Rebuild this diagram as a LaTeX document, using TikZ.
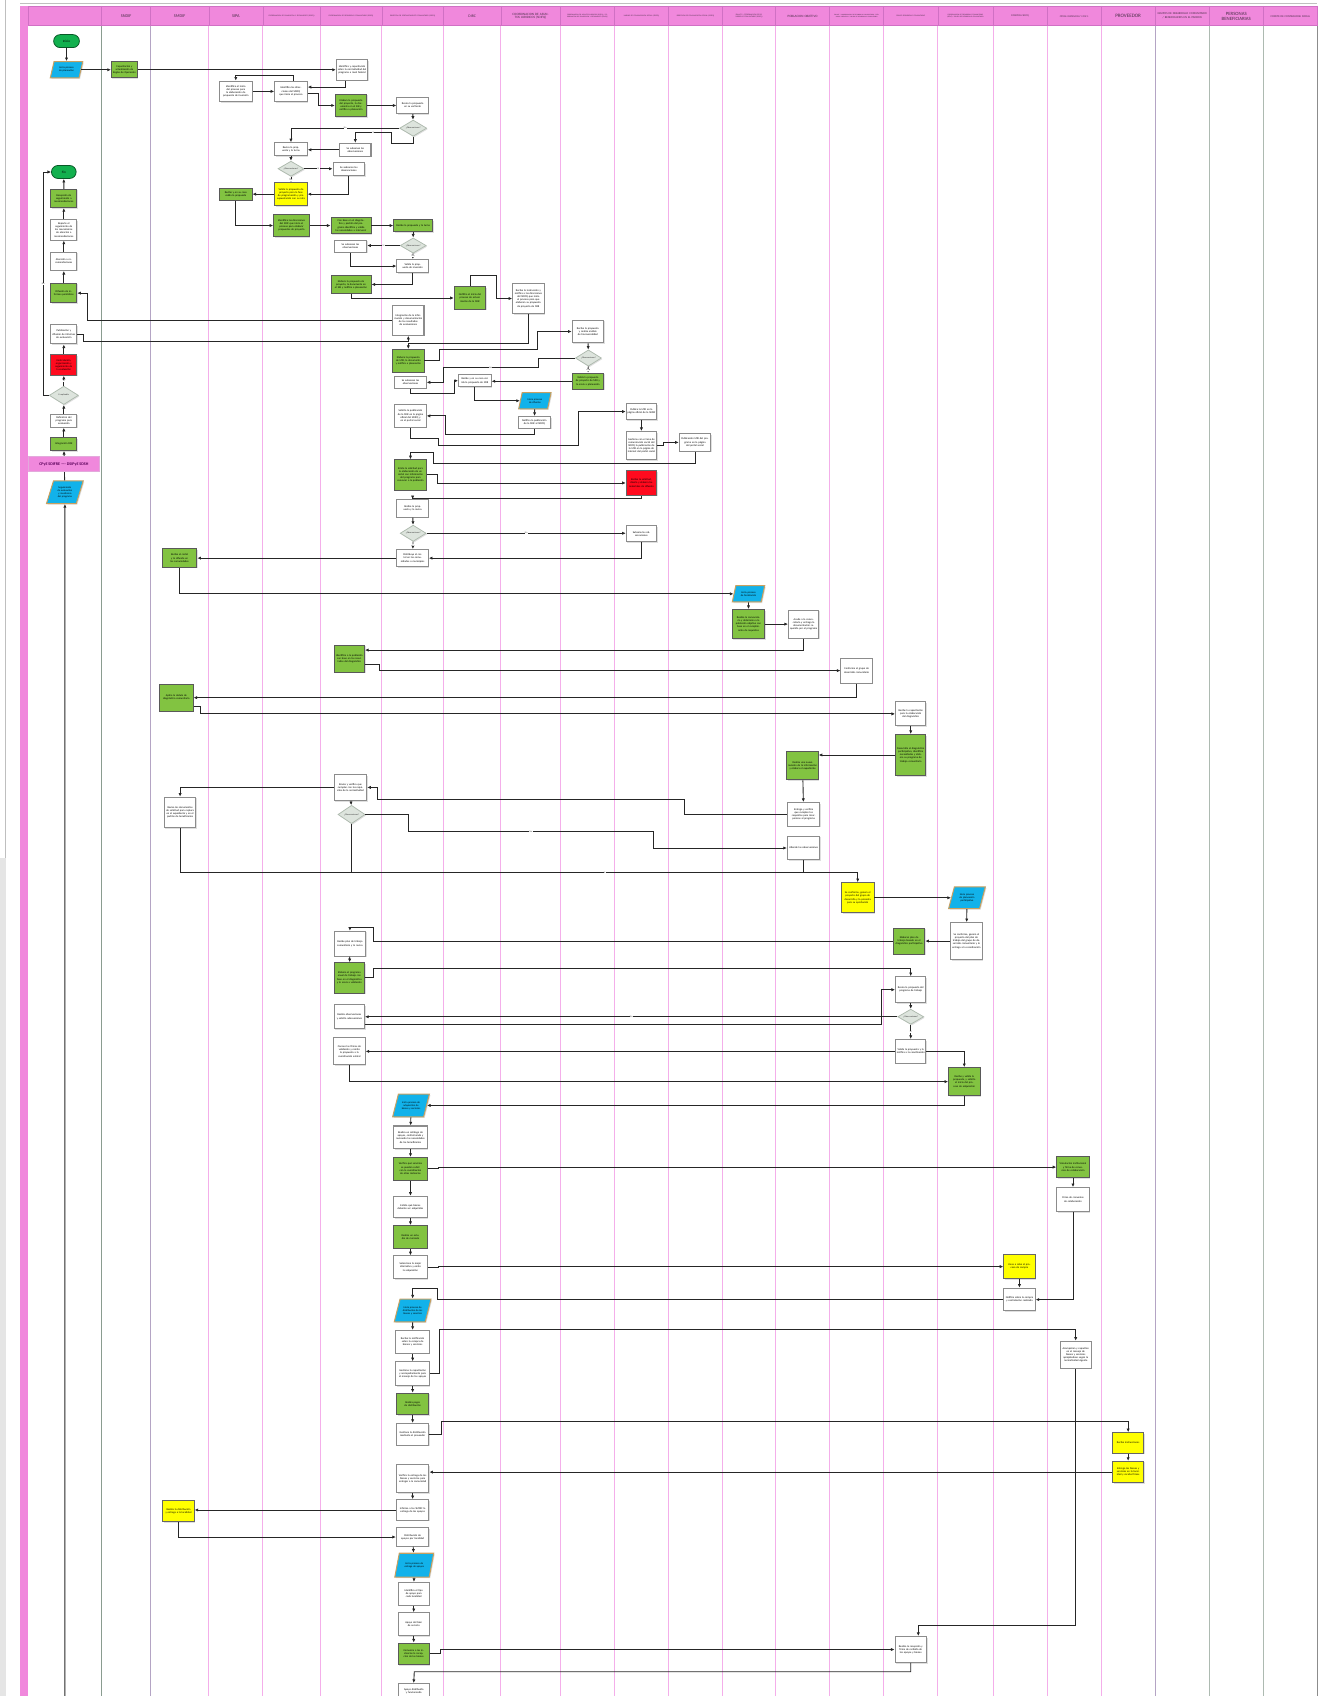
\documentclass[tikz,border=0pt]{standalone}
\usepackage{fontspec}
\setmainfont{Carlito}
\usetikzlibrary{shapes.geometric,shapes.misc,shadows,calc,arrows.meta}
\definecolor{hpink}{HTML}{F088DC}
\definecolor{hpinkd}{HTML}{D070C4}
\definecolor{lpink}{HTML}{F4AEEA}
\definecolor{ggreen}{HTML}{82C341}
\definecolor{tgreen}{HTML}{12B04E}
\definecolor{pblue}{HTML}{12B2EA}
\definecolor{ptan}{HTML}{C8A060}
\definecolor{dfill}{HTML}{DDE4DD}
\definecolor{dline}{HTML}{AEBAAE}
\definecolor{rred}{HTML}{FF0A1E}
\definecolor{yyel}{HTML}{FFFF00}
\definecolor{lgreen}{HTML}{8A9C90}
\definecolor{lpurp}{HTML}{B4A4C4}
\definecolor{htext}{HTML}{4A3048}
\begin{document}
\begin{tikzpicture}[x=0.3mm,y=-0.3mm,
  sz/.style 2 args={minimum width=#1*0.3mm,minimum height=#2*0.3mm},
  shd/.style={drop shadow={shadow xshift=0.3mm,shadow yshift=-0.3mm,opacity=0.25}},
  base/.style={rectangle,inner sep=0.3pt,align=center,text width=8mm,font=\fontsize{2.1}{2.5}\selectfont,shd},
  wb/.style={base,draw=black!45,line width=0.8pt,fill=white},
  gb/.style={base,draw=black!65,line width=0.7pt,fill=ggreen},
  yb/.style={base,draw=black!60,line width=0.7pt,fill=yyel},
  rb/.style={base,draw=black!60,line width=0.7pt,fill=rred},
  pa/.style={trapezium,trapezium left angle=62,trapezium right angle=118,trapezium stretches=true,draw=ptan,line width=0.8pt,fill=pblue,inner sep=0.2pt,align=center,text width=5.5mm,font=\fontsize{2}{2.4}\selectfont,shd},
  dia/.style={diamond,draw=dline,fill=dfill,line width=0.6pt,inner sep=0pt,shd},
  dtx/.style={font=\fontsize{1.7}{2}\selectfont,text=black!80,inner sep=0pt},
  term/.style={rounded rectangle,draw=black!50!tgreen,fill=tgreen,line width=0.6pt,inner sep=0.5pt,font=\fontsize{2.6}{3}\selectfont},
  band/.style={rectangle,fill=hpink,draw=hpinkd!60,line width=0.4pt,font=\bfseries\fontsize{3.2}{3.6}\selectfont,text=violet!70!black,sz={66}{14}},
  hd/.style={align=center,text width=14mm,text=htext,inner sep=0pt},
  arr/.style={draw=black!85,line width=0.7pt,-{Latex[length=1mm,width=0.9mm]}},
  ln/.style={draw=black!85,line width=0.7pt},
  lab/.style={font=\fontsize{1.8}{2}\selectfont,fill=white,inner sep=0.2pt,text=black!70}]
\useasboundingbox (0,0) rectangle (1223,1568);
\clip (0,0) rectangle (1223,1568);
% ---------- background / lanes ----------
\draw[black!25,line width=0.4pt] (5,0) -- (5,793);
\fill[black!10] (0,793) rectangle (5.5,1568);
\draw[black!25,line width=0.4pt] (18.5,3) -- (1218,3);
\fill[hpink] (18.5,5.5) rectangle (26,1568);
\fill[hpink] (26,5.5) rectangle (1218,23);
\foreach \x in {193,243,296,353,410,463,518,568,618,668,717,767,817,867,918,968,1018}
  \draw[lpink,line width=0.7pt] (\x,23) -- (\x,1568);
\draw[lgreen,line width=0.7pt] (94,23) -- (94,1568);
\draw[lpurp,line width=0.7pt] (139,23) -- (139,1568);
\draw[lpurp,line width=0.7pt] (1068,23) -- (1068,1568);
\draw[lgreen!70,line width=0.7pt] (1118,23) -- (1118,1568);
\draw[lgreen!70,line width=0.7pt] (1168,23) -- (1168,1568);
\draw[black!45,line width=0.7pt] (1218,5.5) -- (1218,1568);
\foreach \x in {94,139,193,243,296,353,410,463,518,568,618,668,717,767,817,867,918,968,1018,1068,1118,1168}
  \draw[hpinkd,line width=0.4pt] (\x,5.5) -- (\x,23);
\draw[hpinkd,line width=0.5pt] (26,5.5) rectangle (1218,23);
% ---------- header ----------
\node[hd,font=\fontsize{3.4}{3.8}\selectfont] (h1) at (116.5,15) {SNDIF};
\node[hd,font=\fontsize{3.4}{3.8}\selectfont] (h2) at (166,15) {SMDIF};
\node[hd,font=\fontsize{3.4}{3.8}\selectfont] (h3) at (218,15) {SIPA};
\node[hd,font=\fontsize{1.5}{1.8}\selectfont] (h4) at (269.5,15) {COORDINACION DE PLANEACION Y SEGUIMIENTO (SDIFQ)};
\node[hd,font=\fontsize{1.5}{1.8}\selectfont] (h5) at (324.5,15) {COORDINACION DE DESARROLLO COMUNITARIO (SDIFQ)};
\node[hd,font=\fontsize{1.5}{1.8}\selectfont] (h6) at (381.5,15) {DIRECCION DE FORTALECIMIENTO COMUNITARIO (SDIFQ)};
\node[hd,font=\fontsize{3}{3.4}\selectfont] (h7) at (436.5,15) {DIRC};
\node[hd,font=\fontsize{2.6}{3}\selectfont] (h8) at (490.5,15) {COORDINACION DE ASUNTOS JURIDICOS (SDIFQ)};
\node[hd,font=\fontsize{1.4}{1.7}\selectfont] (h9) at (543,15) {COORDINACION DE ASUNTOS JURIDICOS (SDIFQ) / COORDINACION DE PLANEACION Y SEGUIMIENTO (SDIFQ)};
\node[hd,font=\fontsize{1.5}{1.8}\selectfont] (h10) at (593,15) {UNIDAD DE COMUNICACION SOCIAL (SDIFQ)};
\node[hd,font=\fontsize{1.5}{1.8}\selectfont] (h11) at (643,15) {DIRECCION DE COMUNICACION SOCIAL (SDIFQ)};
\node[hd,font=\fontsize{1.5}{1.8}\selectfont] (h12) at (692.5,15) {ENLACE / COORDINACION DE DESARROLLO COMUNITARIO (SDIFQ)};
\node[hd,font=\fontsize{2.6}{3}\selectfont] (h13) at (742,15) {POBLACION OBJETIVO};
\node[hd,font=\fontsize{1.3}{1.6}\selectfont] (h14) at (792,15) {ENLACE / COORDINACION DE DESARROLLO COMUNITARIO / PERSONAL OPERATIVO / GRUPO DE DESARROLLO COMUNITARIO};
\node[hd,font=\fontsize{1.5}{1.8}\selectfont] (h15) at (842,15) {GRUPO DESARROLLO COMUNITARIO};
\node[hd,font=\fontsize{1.4}{1.7}\selectfont] (h16) at (892.5,15) {COORDINACION DE DESARROLLO COMUNITARIO (SEDIF) / GRUPO DE DESARROLLO COMUNITARIO};
\node[hd,font=\fontsize{2}{2.4}\selectfont] (h17) at (943,15) {COMPRAS SDIFQ};
\node[hd,font=\fontsize{2}{2.4}\selectfont] (h18) at (993,15) {OTRAS INSTANCIAS Y OSC's};
\node[hd,font=\fontsize{4}{4.4}\selectfont] (h19) at (1043,15) {PROVEEDOR};
\node[hd,font=\fontsize{2.3}{2.6}\selectfont] (h20) at (1093,14.5) {GRUPOS DE DESARROLLO COMUNITARIO / BENEFICIARIOS EN EL PADRON};
\node[hd,font=\fontsize{3.8}{4.2}\selectfont] (h21) at (1143,15) {PERSONAS\\BENEFICIARIAS};
\node[hd,font=\fontsize{2.2}{2.6}\selectfont] (h22) at (1193,15) {COMITE DE CONTRALORIA SOCIAL};
% ---------- column 0 ----------
\node[term,sz={25}{12}] (ini) at (61.5,38) {Inicio};
\node[pa,sz={30}{15}] (p1) at (61.5,64.5) {Inicia proceso de planeación};
\node[term,sz={24}{12}] (fin) at (59,159) {Fin};
\node[gb,sz={24}{17},text width=6.6mm] (rec) at (59,183.5) {Recepción de seguimiento a recomendaciones};
\node[wb,sz={24}{19},text width=6.6mm] (rep) at (59,212.5) {Reporte el seguimiento de los mecanismos de atención a recomendaciones};
\node[wb,sz={24}{17},text width=6.6mm] (aten) at (59,241.5) {Atención a recomendaciones};
\node[gb,sz={24}{18},text width=6.6mm] (dif) at (59,271) {Difusión de informes periódicos};
\node[wb,sz={24}{18},text width=6.6mm] (pub) at (59,309) {Publicación y difusión de informes de evaluación};
\node[rb,sz={24}{19},text width=6.6mm] (red0) at (59,337.5) {Contratación, organización y seguimiento de la evaluación};
\node[dia,sz={27}{17},label={[dtx]center:Es aplicable}] (d0) at (59,365.5) {};
\node[wb,sz={24}{12},text width=6.6mm] (defn) at (59,389) {Definición del programa para evaluación};
\node[gb,sz={24}{12},text width=6.6mm] (pae) at (59,410.5) {Integración PAE};
\node[pa,sz={34}{21}] (p8) at (60,455) {Seguimiento de evaluación y monitoreo del programa};
\draw[arr] (p8) -- (pae);
\node[band] (band) at (59,429) {CPyE SDIFRE ---- DSIPyE SDSH};
\coordinate (bot) at (60,1580);
% ---------- nodes ----------
\node[gb,sz={24}{15},text width=6.6mm] (cap) at (115,64.5) {Capacitación y actualización de Reglas de Operación};
\node[wb,sz={29}{19}] (idcap) at (325.5,64.5) {Identifica y capacitación sobre la normatividad del programa a nivel federal};
\node[wb,sz={30}{19}] (sipa1) at (218,84.5) {Identifica el inicio del proceso para la elaboración de propuesta de inversión};
\node[wb,sz={30}{19}] (cps1) at (269,84.5) {Identifica las direcciones del SDIFQ que inicia el proceso};
\node[gb,sz={29}{21}] (cdc1) at (324.5,97.5) {Elabora la propuesta del proyecto, la documenta en el SIB y notifica a planeación};
\node[wb,sz={29}{15}] (dfc1) at (381.5,97.5) {Revisa la propuesta en su vertiente};
\node[dia,sz={25}{15},label={[dtx]center:¿Observaciones?}] (d1) at (382,118.5) {};
\node[wb,sz={30}{12}] (cps2) at (269,138) {Revisa la propuesta y la turna};
\node[wb,sz={29}{12}] (cdc2) at (328.5,138.5) {Se subsanan las observaciones};
\node[dia,sz={24}{14},label={[dtx]center:¿Observaciones?}] (d2) at (269,156) {};
\node[wb,sz={29}{12}] (cdc3) at (322.5,156.5) {Se subsanan las observaciones};
\node[yb,sz={30}{21}] (cps3) at (269,179.5) {Valida la propuesta de proyecto para la fase de programación y presupuestación con su ruta};
\node[gb,sz={30}{11}] (sipa2) at (218,179.5) {Recibe y en su caso valida la propuesta};
\node[gb,sz={33}{21},text width=9mm] (cps4) at (269.5,208.5) {Identifica las direcciones del SDIF que inicia el proceso para elaborar propuestas de proyecto};
\node[gb,sz={37}{15},text width=10.4mm] (cdc4) at (324.5,208.5) {Con base en el diagnóstico y padrón del programa identifica y valida las necesidades a intervenir};
\node[gb,sz={36}{11},text width=10mm] (dfc2) at (382,208.5) {Recibe la propuesta y la turna};
\node[dia,sz={24}{14},label={[dtx]center:¿Observaciones?}] (d3) at (382,227) {};
\node[wb,sz={30}{11}] (cdc5) at (324,227.5) {Se subsanan las observaciones};
\node[wb,sz={29}{12}] (dfc3) at (381.5,246) {Valida la propuesta de inversión};
\node[gb,sz={37}{16},text width=10.4mm] (cdc6) at (324.5,263) {Elabora la propuesta de proyecto, la documenta en el SIB y notifica a planeación};
\node[gb,sz={29}{21}] (dirc1) at (434.5,275.5) {Notifica el inicio del proceso de actualización de la MIR};
\node[wb,sz={29}{28}] (caj1) at (488.5,276) {Recibe la instrucción y notifica a las direcciones del SDIFQ que inicia el proceso para que elaboren su propuesta de proyecto de MIR};
\node[wb,sz={29}{28}] (dfc4) at (377.5,296) {Integración de la información y documentación de los resultados de evaluaciones};
\node[gb,sz={29}{21}] (dfc5) at (377.5,333.5) {Elabora la propuesta de MIR, la documenta y notifica a planeación};
\node[wb,sz={29}{21}] (l9w) at (543.5,306.5) {Recibe la propuesta y realiza análisis de transversalidad};
\node[dia,sz={24}{15},label={[dtx]center:¿Observaciones?}] (d4) at (544,331) {};
\node[gb,sz={29}{15}] (l9g) at (543.5,352.5) {Valida la propuesta de proyecto de MIR y la envía a planeación};
\node[wb,sz={29}{11}] (dfc6) at (379.5,353.5) {Se subsanan las observaciones};
\node[wb,sz={30}{11}] (dirc2) at (439,352) {Recibe y en su caso valida la propuesta de MIR};
\node[pa,sz={30}{15}] (p2) at (494.5,370.5) {Inicia proceso de difusión};
\node[wb,sz={30}{11}] (caj2) at (494,390.5) {Notifica la publicación de la MIR al SDIFQ};
\node[wb,sz={29}{21}] (dfc7) at (379.5,384.5) {Solicita la publicación de la MIR en la página oficial del SDIFQ y en el portal social};
\node[wb,sz={28}{15}] (ucs2) at (593,380.5) {Publica la MIR en la página oficial de la SEDIF};
\node[wb,sz={28}{26}] (ucs3) at (593,412) {Gestiona con el área de comunicación social del SDIFQ la publicación de la MIR en la página de internet del portal social};
\node[wb,sz={29}{16}] (dcs1) at (642.5,409) {Publicación MIR del programa en la página del portal social};
\node[gb,sz={29}{28}] (dfc8) at (379.5,439) {Emite la solicitud para la elaboración de un cartel con información del programa para convocar a la población};
\node[rb,sz={28}{23}] (ucs4) at (593,446.5) {Recibe la solicitud, diseña y elabora los materiales de difusión};
\node[wb,sz={29}{16}] (dfc9) at (381.5,470) {Recibe la propuesta y la revisa};
\node[dia,sz={24}{15},label={[dtx]center:¿Observaciones?}] (d5) at (382,493) {};
\node[wb,sz={28}{15}] (ucs5) at (593,493.5) {Subsana las observaciones};
\node[wb,sz={29}{16}] (dfc10) at (381.5,516) {Distribuye el cartel en las comunidades o municipios};
\node[gb,sz={32}{17}] (smdif1) at (166,516) {Recibe el cartel y lo difunde en las comunidades};
\node[pa,sz={30}{15}] (p3) at (692,549) {Inicia proceso de focalización};
\node[gb,sz={30}{27}] (l12g) at (692,577) {Realiza la convocatoria y determina a la población objetivo con base en el cumplimiento de requisitos};
\node[wb,sz={28}{26}] (l13w) at (743,577) {Acude a la convocatoria y entrega la documentación requerida por el programa};
\node[gb,sz={28}{25}] (cdc7) at (323,609) {Identifica a la población con base en los resultados del diagnóstico};
\node[wb,sz={29}{23}] (l14w) at (792,620) {Conforma el grupo de desarrollo comunitario};
\node[gb,sz={31}{25}] (smdif2) at (163,645) {Aplica la cédula de diagnóstico comunitario};
\node[wb,sz={28}{22}] (l15w) at (842,660) {Recibe la capacitación para la elaboración del diagnóstico};
\node[gb,sz={28}{38}] (l15g) at (842,698) {Desarrolla el diagnóstico participativo, identifica necesidades y elabora su programa de trabajo comunitario};
\node[gb,sz={29}{26}] (l13g) at (742,708) {Realiza una nueva revisión de la información y elabora el expediente};
\node[wb,sz={30}{22}] (l13w2) at (743,753) {Entrega y verifica que cumplan los requisitos para incorporarse al programa};
\node[wb,sz={30}{24}] (cdc8) at (324,728) {Revisa y verifica que cumplan con los requisitos de la normatividad};
\node[wb,sz={29}{28}] (smdif3) at (166.5,751) {Revisa los documentos de solicitud para captura en el expediente y en el padrón de beneficiarios};
\node[dia,sz={25}{17},label={[dtx]center:¿Observaciones?}] (d6) at (325,753) {};
\node[wb,sz={30}{22}] (l13w3) at (743,784) {Atiende las observaciones};
\node[yb,sz={30}{28}] (l14y) at (793,830) {Se conforma, genera el proyecto del grupo de desarrollo y lo presenta para su aprobación};
\node[pa,sz={34}{20}] (p4) at (894,830) {Inicia proceso de planeación participativa};
\node[wb,sz={29}{34}] (l16w) at (893.5,870) {Se conforma, genera el proyecto del plan de trabajo del grupo de desarrollo comunitario y lo entrega a la coordinación};
\node[gb,sz={29}{24}] (l15g2) at (840.5,870) {Elaboran plan de trabajo basado en el diagnóstico participativo};
\node[wb,sz={29}{23}] (cdc9) at (323.5,872.5) {Recibe plan de trabajo comunitario y lo revisa};
\node[gb,sz={28}{28}] (cdc10) at (323,904) {Elabora el programa anual de trabajo con base en el diagnóstico y lo envía a validación};
\node[wb,sz={28}{24}] (l15w2) at (842,915) {Revisa la propuesta del programa de trabajo};
\node[dia,sz={24}{14},label={[dtx]center:¿Observaciones?}] (d7) at (842,940) {};
\node[wb,sz={28}{22}] (cdc11) at (323,940) {Realiza observaciones y solicita adecuaciones};
\node[wb,sz={28}{22}] (l15w3) at (842,972) {Valida la propuesta y la notifica a la coordinación};
\node[wb,sz={29}{25}] (cdc12) at (323,972) {Conoce las firmas de validación y remite la propuesta a la coordinación estatal};
\node[gb,sz={29}{26}] (l16g) at (891.5,1000) {Recibe y valida la propuesta, y solicita el inicio del proceso de adquisición};
\node[pa,sz={34}{21}] (p5) at (380,1022) {Inicia proceso de adquisición de bienes y servicios};
\node[wb,sz={31}{21}] (dfc11) at (379.5,1051.5) {Realiza un catálogo de apoyos, conformando y revisando las necesidades de los beneficiarios};
\node[gb,sz={31}{21}] (dfc12) at (379.5,1080.5) {Verifica qué servicios se pueden cubrir con la coordinación de otras instancias};
\node[gb,sz={30}{20}] (l18g) at (992,1079) {Vinculación institucional y firma de convenios de colaboración};
\node[wb,sz={30}{22}] (l18w) at (992,1109) {Firma de convenios de colaboración};
\node[wb,sz={31}{20}] (dfc13) at (379.5,1116) {Enlista qué bienes deberán ser adquiridos};
\node[gb,sz={31}{21}] (dfc14) at (379.5,1143.5) {Realiza un estudio de mercado};
\node[wb,sz={31}{21}] (dfc15) at (379.5,1171.5) {Selecciona la mejor alternativa y emite la adquisición};
\node[yb,sz={29}{22}] (l17y) at (942.5,1171) {Lleva a cabo el proceso de compra};
\node[wb,sz={29}{21}] (l17w) at (942.5,1201.5) {Notifica sobre la compra y contratación realizada};
\node[pa,sz={34}{21}] (p6) at (381.5,1211.5) {Inicia proceso de distribución de los bienes y servicios};
\node[wb,sz={31}{21}] (dfc16) at (381.5,1240.5) {Recibe la notificación sobre la compra de bienes y servicios};
\node[wb,sz={31}{22}] (dfc17) at (381.5,1270) {Gestiona la capacitación y acompañamiento para el manejo de los apoyos};
\node[wb,sz={29}{25}] (l18w2) at (994.5,1252.5) {Acompañan y capacitan en el manejo de bienes y servicios apropiándose según la normatividad vigente};
\node[gb,sz={30}{20}] (dfc18) at (381.5,1298) {Realiza pagos de distribución};
\node[wb,sz={30}{20}] (dfc19) at (381.5,1326) {Gestiona la distribución mediante el proveedor};
\node[yb,sz={29}{19}] (l19y1) at (1043,1334) {Recibe instrucciones};
\node[yb,sz={29}{20}] (l19y2) at (1043,1361) {Entrega los bienes y servicios en la localidad y recaba firmas};
\node[wb,sz={30}{26}] (dfc20) at (381.5,1367) {Verifica la entrega de los bienes y servicios para entregar a la comunidad};
\node[wb,sz={30}{19}] (dfc21) at (381.5,1396) {Informa a los SMDIF la entrega de los apoyos};
\node[yb,sz={29}{20}] (smdif4) at (165,1397) {Realiza la distribución y entrega a la localidad};
\node[wb,sz={30}{17}] (dfc22) at (381.5,1421) {Distribución de apoyos por localidad};
\node[pa,sz={36}{22}] (p7) at (383,1447) {Inicia proceso de entrega de apoyos};
\node[wb,sz={29}{21}] (dfc23) at (382.5,1473.5) {Identifica el tipo de apoyo para cada localidad};
\node[wb,sz={29}{21}] (dfc24) at (382.5,1501.5) {Apoyo del bien de servicio};
\node[gb,sz={29}{20}] (dfc25) at (382.5,1529) {Comunica a las instancias la recepción de los bienes};
\node[wb,sz={29}{24}] (l15w4) at (842,1525) {Realiza la recepción y firma de recibido de los apoyos y bienes};
\node[wb,sz={29}{14}] (dfc26) at (382.5,1563.5) {Apoyo distribuido y funcionando};
\coordinate (j1) at (325,807);
% ---------- connectors column 0 ----------
\draw[arr] (ini) -- (p1);
\draw[arr] (rec) -- (fin);
\draw[arr] (rep) -- (rec);
\draw[arr] (aten) -- (rep);
\draw[arr] (dif) -- (aten);
\draw[arr] (red0) -- (pub);
\draw[arr] (d0) -- node[lab]{Si} (red0);
\draw[arr] (defn) -- (d0);
\draw[arr] (pae) -- (defn);
\draw[arr] (bot) -- (p8.south);
\draw[arr] (d0.west) -| node[lab,pos=0.75]{No} (40,159) -- (fin.west);
% ---------- connectors ----------
\draw[arr] (p1) -- (cap);
\draw[arr] (cap) -- (idcap);
\draw[arr] ($(idcap.south)+(-6,0)$) |- ($(cps1.east)+(0,-4)$);
\draw[arr] ($(cps1.north)+(2,0)$) -- ++(0,-5) -| (sipa1.north);
\draw[arr] (sipa1) -- (cps1);
\draw[arr] ($(cps1.east)+(0,2)$) -- ++(10,0) |- (cdc1.west);
\draw[arr] (cdc1) -- (dfc1);
\draw[arr] (dfc1) -- (d1);
\draw[arr] (d1.west) -| node[lab,pos=0.25]{No} (cps2.north);
\draw[arr] (d1.south) -- ++(0,6) -| ++(-20,-10) -| node[lab,pos=0.25]{Si} (cdc2.north);
\draw[arr] (cdc2.west) -- (cps2.east |- cdc2.west);
\draw[arr] (cps2) -- (d2);
\draw[arr] (d2.east) -- node[lab]{Si} (cdc3.west |- d2.east);
\draw[arr] (d2) -- node[lab]{No} (cps3);
\draw[arr] (cdc3.south) |- (cps3.east);
\draw[arr] (cps3) -- (sipa2);
\draw[arr] (sipa2.south) |- (cps4.west);
\draw[arr] (cps4) -- (cdc4);
\draw[arr] (cdc4) -- (dfc2);
\draw[arr] (dfc2) -- (d3);
\draw[arr] (d3.west) -- node[lab]{Si} (cdc5.east |- d3.west);
\draw[arr] (d3) -- node[lab]{No} (dfc3);
\draw[arr] (cdc5.south) |- (dfc3.west);
\draw[arr] (dfc3.south) |- (cdc6.east);
\draw[arr] (cdc6.south) |- (dirc1.west);
\draw[arr] (dirc1.north) |- (459,255) |- (caj1.west);
\draw[arr] (caj1.south) |- ($(dfc5.north)+(0,-5)$) -- (dfc5.north);
\draw[arr] (dfc4.west) -| ($(dif.east)+(9,0)$) -- (dif.east);
\draw[arr] (pub.east) -- ++(6,0) |- ($(dfc4.south)+(0,5)$) -- (dfc4.south);
\draw[arr] (dfc5.east) -- ++(14,0) |- (497,323) |- (l9w.west);
\draw[arr] (l9w) -- (d4);
\draw[arr] (d4) -- node[lab]{Si} (l9g);
\draw[arr] (d4.west) -| (497.5,339.6) -| node[lab,pos=0.25]{No} (409.7,353.5) -- (dfc6.east);
\draw[arr] (dfc6.south) |- (419.7,364) |- (dirc2.west);
\draw[arr] (l9g.west) -- (dirc2.east |- l9g.west);
\draw[arr] (dirc2.south) |- (p2.west);
\draw[arr] (p2) -- (caj2);
\draw[arr] (caj2.south) |- (412,402) |- (dfc7.east);
\draw[arr] (dfc7.south) |- (405,405.8) |- (535,412) |- (ucs2.west);
\draw[arr] (ucs2) -- (ucs3);
\draw[arr] (ucs3.east) -- ++(5.6,0) |- (dcs1.west);
\draw[arr] (dcs1.south) |- (400.5,428) |- ($(dfc8.north)+(0,-6)$) -- (dfc8.north);
\draw[arr] (dfc8.east) -- ++(10,0) |- (ucs4.west);
\draw[arr] (ucs4.south) -- ++(0,2) -| (dfc9.north);
\draw[arr] (dfc9) -- (d5);
\draw[arr] (d5.east) -- node[lab]{No} (ucs5.west |- d5.east);
\draw[arr] (d5) -- node[lab]{Si} (dfc10);
\draw[arr] (ucs5.south) |- (dfc10.east);
\draw[arr] (dfc10) -- (smdif1);
\draw[arr] (smdif1.south) |- (p3.west);
\draw[arr] (p3) -- (l12g);
\draw[arr] (l12g) -- (l13w);
\draw[arr] (l13w.south) |- ($(cdc7.east)+(0,-8)$);
\draw[arr] ($(cdc7.east)+(0,5)$) -- ++(13,0) |- (l14w.west);
\draw[arr] (l14w.south) |- (smdif2.east);
\draw[arr] ($(smdif2.east)+(0,8)$) -- ++(6,0) |- (l15w.west);
\draw[arr] (l15w) -- (l15g);
\draw[arr] (l15g.west) -- (l13g.east |- l15g.west);
\draw[arr] (l13g) -- (l13w2);
\draw[arr] (l13w2.west) -| (633,739) -| (349,728) -- (cdc8.east);
\draw[arr] (cdc8.west) -| (smdif3.north);
\draw[arr] (cdc8) -- (d6);
\draw[arr] (d6.east) -| (378,769) -| node[lab,pos=0.25]{No} (604,784) -- (l13w3.west);
\draw[arr] (d6.south) |- node[lab,pos=0.75]{Si} (793,807) -- (l14y.north);
\draw[ln] (smdif3.south) |- (j1);
\draw[ln] (l13w3.south) -- (l13w3.south |- j1);
\draw[arr] (l14y) -- (p4);
\draw[arr] (p4) -- (l16w);
\draw[arr] (l16w) -- (l15g2);
\draw[arr] (l15g2.west) -| (345,857) -| (cdc9.north);
\draw[arr] (cdc9) -- (cdc10);
\draw[arr] (cdc10.east) -- ++(8,0) |- (842,895) -- (l15w2.north);
\draw[arr] (l15w2) -- (d7);
\draw[arr] (d7) -- node[lab]{No} (cdc11);
\draw[arr] ($(cdc11.east)+(0,7)$) -| (815,915) -- (l15w2.west);
\draw[arr] (d7) -- node[lab]{Si} (l15w3);
\draw[arr] (l15w3.east) -| (l16g.north);
\draw[arr] (l15w3.west) -- (cdc12.east);
\draw[arr] (cdc12.south) |- (l16g.west);
\draw[arr] (l16g.south) |- (p5.east);
\draw[arr] (p5) -- (dfc11);
\draw[arr] (dfc11) -- (dfc12);
\draw[arr] (dfc12.east) -- ++(10,0) |- (l18g.west);
\draw[arr] (l18g) -- (l18w);
\draw[arr] (l18w.south) |- (l17w.east);
\draw[arr] (dfc12) -- (dfc13);
\draw[arr] (dfc13) -- (dfc14);
\draw[arr] (dfc14) -- (dfc15);
\draw[arr] (dfc15.east) -- ++(10,0) |- (l17y.west);
\draw[arr] (l17y) -- (l17w);
\draw[arr] (l17w.west) -| (404,1191) -| (p6.north);
\draw[arr] (p6) -- (dfc16);
\draw[arr] (dfc16) -- (dfc17);
\draw[arr] (dfc17.east) -| (406,1229.5) -| (l18w2.north);
\draw[arr] (dfc17) -- (dfc18);
\draw[arr] (dfc18) -- (dfc19);
\draw[arr] (dfc19.east) -| (408,1314) -| (l19y1.north);
\draw[arr] (l19y1) -- (l19y2);
\draw[arr] (l19y2.west) -- (dfc20.east |- l19y2.west);
\draw[arr] (dfc20) -- (dfc21);
\draw[arr] (dfc21.west) -- (smdif4.east |- dfc21.west);
\draw[arr] (smdif4.south) |- (dfc22.west);
\draw[arr] (dfc22) -- (p7);
\draw[arr] (p7) -- (dfc23);
\draw[arr] (dfc23) -- (dfc24);
\draw[arr] (dfc24) -- (dfc25);
\draw[arr] (dfc25.east) -- ++(10,0) |- (l15w4.west);
\draw[arr] (l18w2.south) |- ($(l15w4.north)+(7,-10)$) -- ($(l15w4.north)+(7,0)$);
\draw[arr] (l15w4.south) |- (383,1545.6) -- (dfc26.north);
\end{tikzpicture}
\end{document}
